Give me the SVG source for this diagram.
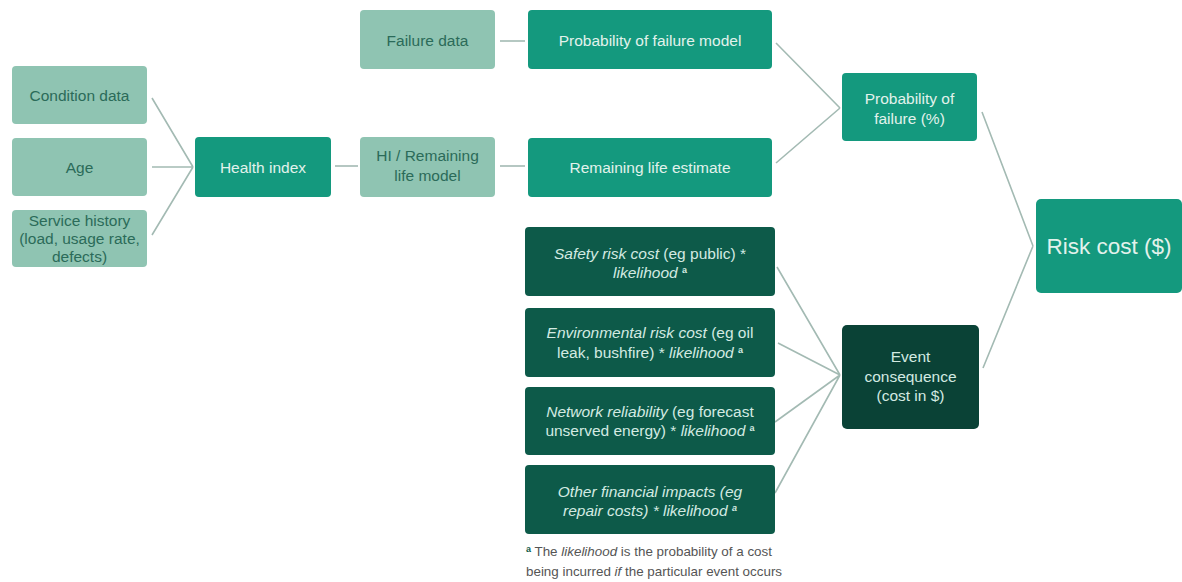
<svg xmlns="http://www.w3.org/2000/svg" width="1182" height="582" viewBox="0 0 1182 582">
<style>
.light{fill:#8fc4b2}
.mid{fill:#14997e}
.dark{fill:#0d5a49}
.darker{fill:#0a4236}
text{font-family:"Liberation Sans",Arial,sans-serif;text-anchor:middle}
.tl{fill:#2b6b59;font-size:15.5px}
.tw{fill:#e2f2ec;font-size:15.5px}
.td{fill:#d3eae2;font-size:15.5px}
.conn{stroke:#a3bab3;stroke-width:1.6;fill:none}
.note{fill:#555;font-size:13.4px;text-anchor:start}
.sup{font-size:9px;font-weight:bold}
</style>
<rect width="1182" height="582" fill="#ffffff"/>
<g id="connectors">
<path class="conn" d="M152,98 L193,167 M152,167 L193,167 M152,235 L193,167"/>
<path class="conn" d="M335,166 L358,166"/>
<path class="conn" d="M500,41 L525,41"/>
<path class="conn" d="M500,166 L525,166"/>
<path class="conn" d="M776,43 L840,108 M776,163 L840,108"/>
<path class="conn" d="M982,112 L1033,246 M983,368 L1033,246"/>
<path class="conn" d="M777,267 L840,375 M778,343 L840,375 M775,422 L840,375 M775,493 L840,375"/>
</g>
<g id="condition-data"><rect class="light" x="12" y="66" width="135" height="58" rx="4"/><text class="tl" x="79.5" y="100.5">Condition data</text></g>
<g id="age"><rect class="light" x="12" y="138" width="135" height="58" rx="4"/><text class="tl" x="79.5" y="172.5">Age</text></g>
<g id="service-history"><rect class="light" x="12" y="210" width="135" height="57" rx="4"/><text class="tl" x="79.5" y="226">Service history</text><text class="tl" x="79.5" y="244">(load, usage rate,</text><text class="tl" x="79.5" y="262">defects)</text></g>
<g id="health-index"><rect class="mid" x="195" y="137" width="136" height="60" rx="4"/><text class="tw" x="263" y="172.5">Health  index</text></g>
<g id="failure-data"><rect class="light" x="360" y="10" width="135" height="59" rx="4"/><text class="tl" x="427.5" y="45.5">Failure data</text></g>
<g id="hi-model"><rect class="light" x="360" y="137" width="135" height="60" rx="4"/><text class="tl" x="427.5" y="161">HI  / Remaining</text><text class="tl" x="427.5" y="181">life model</text></g>
<g id="pof-model"><rect class="mid" x="528" y="10" width="244" height="59" rx="4"/><text class="tw" x="650" y="45.5">Probability of failure model</text></g>
<g id="remaining-life"><rect class="mid" x="528" y="138" width="244" height="59" rx="4"/><text class="tw" x="650" y="172.5">Remaining  life estimate</text></g>
<g id="pof"><rect class="mid" x="842" y="73" width="135" height="68" rx="4"/><text class="tw" x="909.5" y="104">Probability of</text><text class="tw" x="909.5" y="124">failure  (%)</text></g>
<g id="risk-cost"><rect class="mid" x="1036" y="199" width="146" height="94" rx="5"/><text class="tw" x="1109" y="254" style="font-size:22.5px">Risk cost ($)</text></g>
<g id="safety"><rect class="dark" x="525" y="227" width="250" height="69" rx="4"/><text class="td" x="650" y="259"><tspan font-style="italic">Safety risk cost</tspan> (eg public)  *</text><text class="td" x="650" y="278"><tspan font-style="italic">likelihood</tspan> <tspan class="sup" dy="-5">a</tspan></text></g>
<g id="environmental"><rect class="dark" x="525" y="308" width="250" height="69" rx="4"/><text class="td" x="650" y="338"><tspan font-style="italic">Environmental risk cost</tspan> (eg oil</text><text class="td" x="650" y="358">leak, bushfire) *  <tspan font-style="italic">likelihood</tspan> <tspan class="sup" dy="-5">a</tspan></text></g>
<g id="network"><rect class="dark" x="525" y="387" width="250" height="68" rx="4"/><text class="td" x="650" y="417"><tspan font-style="italic">Network reliability</tspan> (eg forecast</text><text class="td" x="650" y="436">unserved  energy) * <tspan font-style="italic">likelihood</tspan> <tspan class="sup" dy="-5">a</tspan></text></g>
<g id="other"><rect class="dark" x="525" y="465" width="250" height="69" rx="4"/><text class="td" x="650" y="497" font-style="italic">Other financial impacts (eg</text><text class="td" x="650" y="516" font-style="italic">repair costs) * likelihood <tspan class="sup" dy="-5">a</tspan></text></g>
<g id="event-consequence"><rect class="darker" x="842" y="325" width="137" height="104" rx="5"/><text class="td" x="910.5" y="362">Event</text><text class="td" x="910.5" y="382">consequence</text><text class="td" x="910.5" y="401">(cost in $)</text></g>
<g id="footnote"><text class="note" x="526" y="556"><tspan fill="#0d5a49" class="sup" dy="-4">a</tspan><tspan dy="4"> The </tspan><tspan font-style="italic">likelihood</tspan> is the probability of a cost</text><text class="note" x="526" y="576">being incurred <tspan font-style="italic">if</tspan> the particular event occurs</text></g>
</svg>
